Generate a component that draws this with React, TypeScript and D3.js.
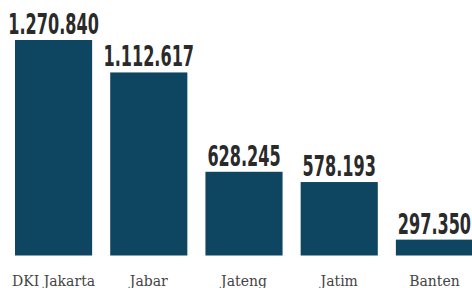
import React, { useEffect, useRef } from 'react';
import * as d3 from 'd3';

const provinces = ['DKI Jakarta', 'Jabar', 'Jateng', 'Jatim', 'Banten'];
const values = [1270840, 1112617, 628245, 578193, 297350];
const valueLabels = ['1.270.840', '1.112.617', '628.245', '578.193', '297.350'];

export default () => {
  const svgRef = useRef<SVGSVGElement>(null);

  useEffect(() => {
    if (!svgRef.current) {
      return;
    }
    const width = 472;
    const height = 288;
    const baseline = 255.5;

    const svg = d3.select(svgRef.current)
      .attr('width', width)
      .attr('height', height);
    svg.selectAll('*').remove();

    const x = d3.scaleBand<string>()
      .domain(provinces)
      .range([15, 473])
      .paddingInner(0.19)
      .paddingOuter(0);

    // bars in the source are not drawn from zero
    const y = d3.scaleLinear()
      .domain([220000, d3.max(values) || 1])
      .range([baseline, 40]);

    const g = svg.selectAll('g.bar')
      .data(values)
      .enter()
      .append('g')
      .attr('class', 'bar');

    g.append('rect')
      .attr('x', (d, i) => x(provinces[i]) || 0)
      .attr('y', d => y(d))
      .attr('width', x.bandwidth())
      .attr('height', d => baseline - y(d))
      .style('fill', '#0e4560');

    // narrow condensed labels, squeezed horizontally
    g.append('text')
      .attr('transform', (d, i) =>
        `translate(${(x(provinces[i]) || 0) + x.bandwidth() / 2}, ${y(d) - 6}) scale(0.65, 1)`)
      .attr('text-anchor', 'middle')
      .style('font-family', '"DejaVu Sans Condensed", "DejaVu Sans", sans-serif')
      .style('font-weight', 'bold')
      .style('font-size', '27.5px')
      .style('fill', '#2a2a2a')
      .text((d, i) => valueLabels[i]);

    const xAxis = d3.axisBottom(x).tickSize(0).tickPadding(0);
    const axisG = svg.append('g')
      .attr('transform', `translate(0, 276)`)
      .call(xAxis);
    axisG.select('.domain').remove();
    axisG.selectAll('text')
      .attr('dy', '0.71em')
      .style('font-family', '"DejaVu Serif", serif')
      .style('font-size', '14px')
      .style('fill', '#444');
  }, []);

  return (
    <div style={{ position: 'absolute', left: 0, top: 0 }}>
      <svg ref={svgRef} style={{ display: 'block' }} />
    </div>
  );
}
